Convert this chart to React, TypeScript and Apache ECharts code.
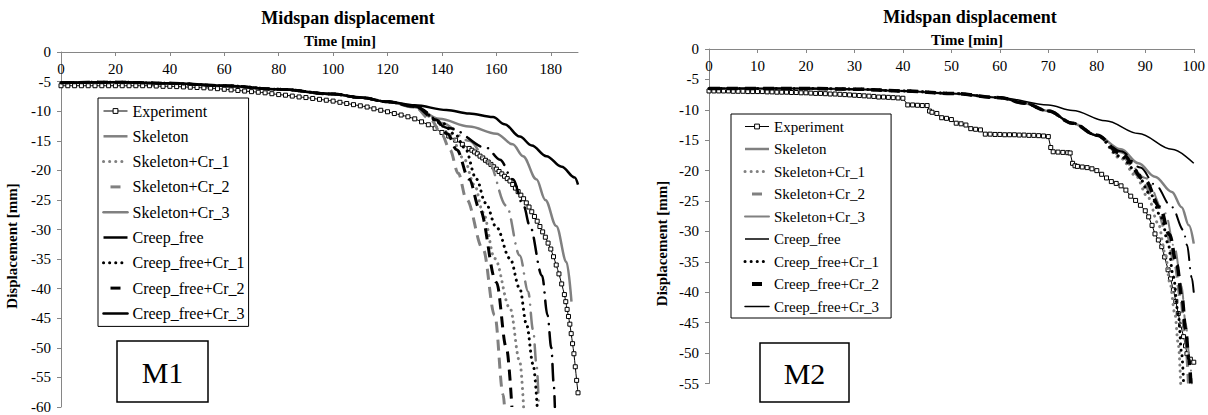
import React, { useEffect, useRef } from "react";
import * as echarts from "echarts";

type Pt = [number, number];

const FONT = "Liberation Serif";
const BLACK = "#000000";
const GRAY = "#808080";
const AXIS = "#868686";

const seriesNames = [
  "Experiment",
  "Skeleton",
  "Skeleton+Cr_1",
  "Skeleton+Cr_2",
  "Skeleton+Cr_3",
  "Creep_free",
  "Creep_free+Cr_1",
  "Creep_free+Cr_2",
  "Creep_free+Cr_3",
];
const chartTitle = "Midspan displacement";
const xTitle = "Time [min]";
const yTitle = "Displacement [mm]";
const panelLabels = ["M1", "M2"];

// ---------------- M1 (left) ----------------
const m1Experiment: Pt[] = [
  [0, -5.7], [2.5, -5.7], [5, -5.7], [7.5, -5.7], [10, -5.7], [12.5, -5.7], [15, -5.7], [17.5, -5.7],
  [20, -5.7], [22.5, -5.7], [25, -5.7], [27.5, -5.7], [30, -5.7], [32.5, -5.7], [35, -5.75], [37.5, -5.8],
  [40, -5.8], [42.5, -5.85], [45, -5.9], [47.5, -5.95], [50, -6.0], [52.5, -6.05], [55, -6.1], [57.5, -6.2],
  [60, -6.3], [62.5, -6.4], [65, -6.5], [67.5, -6.6], [70, -6.7], [72.5, -6.8], [75, -6.9], [77.5, -7.05],
  [80, -7.2], [82.5, -7.3], [85, -7.45], [87.5, -7.6], [90, -7.7], [92.5, -7.85], [95, -8.0], [97.5, -8.15],
  [100, -8.3], [102.5, -8.5], [105, -8.7], [107.5, -8.9], [110, -9.1], [112.5, -9.3], [115, -9.6], [117.5, -9.85],
  [120, -10.1], [122.5, -10.4], [125, -10.65], [127.5, -10.95], [130, -11.3], [132.5, -11.8], [135, -12.3],
  [137.5, -12.9], [140, -13.6], [142.5, -14.2], [145, -14.9], [147.5, -15.6], [150, -16.3],
  [151, -16.6], [152, -16.9], [153, -17.2], [154, -17.6], [155, -17.9], [156, -18.3], [157, -18.6], [158, -19.0],
  [159, -19.4], [160, -19.8], [161, -20.2], [162, -20.6], [163, -21.0], [164, -21.4], [165, -21.8], [166, -22.4],
  [167, -23.0], [168, -23.6], [169, -24.2], [170, -24.8], [171, -25.5], [172, -26.2], [173, -27.0], [174, -27.8],
  [175, -28.6], [176, -29.5], [177, -30.4], [178, -31.3], [179, -32.3], [180, -33.3], [181, -34.6], [182, -36.0],
  [183, -37.5], [184, -39.2], [185, -41.0], [185.5, -42.2], [186, -43.5], [186.5, -44.7], [187, -46.0],
  [187.5, -47.6], [188, -49.3], [188.5, -51.0], [189, -53.2], [189.5, -55.5], [190, -57.6],
];
const m1Head: Pt[] = [[0, -5.2], [20, -5.1], [40, -5.3], [60, -5.7], [80, -6.3], [100, -7.1], [110, -7.7], [120, -8.4]];
const m1Skeleton: Pt[] = [...m1Head, [130, -9.3], [139, -11.3], [150, -12.6], [160, -13.8], [166, -15.6], [169.8, -17.6], [174.7, -21.5], [178, -25], [182, -29.4], [185.8, -35.5], [187.6, -42.2]];
const m1SkeletonCr1: Pt[] = [...m1Head, [130, -9.3], [138, -11.5], [143, -14], [148, -18], [152, -22.5], [155.1, -27.1], [159.4, -34.9], [165, -43.3], [168.6, -52.3], [170, -60]];
const m1SkeletonCr2: Pt[] = [...m1Head, [130, -9.3], [136, -11.5], [140, -14], [142.9, -16.5], [146, -20.5], [149, -24.9], [155.1, -33.3], [159.4, -44.5], [162.5, -57.9], [163, -60]];
const m1SkeletonCr3: Pt[] = [...m1Head, [130, -9.3], [140, -12], [150, -15], [157, -18.5], [163.7, -26], [168.6, -34.4], [171.7, -40.5], [173.5, -47], [174.8, -53], [175.6, -60]];
const m1CreepFree: Pt[] = [...m1Head, [130, -9.0], [141.7, -9.8], [150, -10.4], [158.8, -11.0], [163, -12.2], [168.6, -14.3], [173, -15.8], [178.4, -17.6], [184, -19.4], [188.8, -21.2], [190, -22.4]];
const m1CreepFreeCr1: Pt[] = [...m1Head, [130, -9.2], [140, -12], [145, -14], [148.4, -16.2], [152.7, -21.5], [156, -25.5], [160, -29.6], [165, -34.9], [168.6, -40], [171.1, -46.1], [173.5, -52.8], [175, -60]];
const m1CreepFreeCr2: Pt[] = [...m1Head, [130, -9.2], [138, -11.5], [142, -13.8], [145.4, -16.5], [150, -21.5], [153.9, -26.6], [160, -38.9], [163.7, -50], [165.7, -60]];
const m1CreepFreeCr3: Pt[] = [...m1Head, [130, -9.2], [142.9, -12.9], [156.4, -16.2], [161.3, -18.2], [166, -21.5], [170, -26], [172.3, -29.4], [176.8, -37.8], [178.8, -44.5], [180.2, -50], [181.1, -56.2], [181.5, -60]];

// ---------------- M2 (right) ----------------
const m2Experiment: Pt[] = [
  [0, -6.9], [1, -6.9], [2, -6.9], [3, -6.9], [4, -6.9], [5, -6.95], [6, -6.95], [7, -6.95], [8, -7.0], [9, -7.0],
  [10, -7.0], [11, -7.0], [12, -7.05], [13, -7.05], [14, -7.1], [15, -7.1], [16, -7.1], [17, -7.15], [18, -7.15],
  [19, -7.2], [20, -7.2], [21, -7.25], [22, -7.3], [23, -7.3], [24, -7.35], [25, -7.4], [26, -7.4], [27, -7.45],
  [28, -7.5], [29, -7.55], [30, -7.6], [31, -7.65], [32, -7.7], [33, -7.75], [34, -7.8], [35, -7.9], [36, -7.9],
  [37, -7.95], [38, -8.0], [39, -8.05], [40, -8.1], [41, -9.2], [42, -9.2], [43, -9.25], [44, -9.3], [45, -9.3],
  [45.5, -10.2], [46, -10.4], [47, -10.6], [48, -11.3], [49, -11.4], [50, -11.6], [51, -12.2], [52, -12.3],
  [53, -12.5], [54, -13.1], [55, -13.2], [56, -13.3], [57, -14.0], [58, -14.0], [59, -14.05], [60, -14.05],
  [61, -14.1], [62, -14.1], [63, -14.1], [64, -14.15], [65, -14.15], [66, -14.2], [67, -14.2], [68, -14.25],
  [69, -14.3], [70, -14.4], [70.5, -16.2], [71, -16.9], [72, -16.95], [73, -17.0], [74, -17.05], [74.5, -17.1],
  [75, -18.8], [75.5, -19.2], [76, -19.3], [77, -19.4], [78, -19.5], [79, -19.7], [80, -20.0], [81, -20.6],
  [82, -21.2], [83, -21.8], [84, -22.1], [85, -22.5], [86, -23.2], [87, -24.2], [88, -24.9], [89, -25.7],
  [90, -26.6], [90.7, -27.6], [91.4, -29.0], [92, -30.4], [92.7, -31.4], [93.4, -32.5], [94, -34.2], [94.7, -36.3],
  [95.2, -37.8], [95.8, -39.6], [96.3, -41.5], [96.8, -43.5], [97.3, -45.4], [97.9, -47.3], [98.3, -48.8],
  [98.6, -50.1], [99.3, -51], [100, -51.5],
];
const m2Head: Pt[] = [[0, -6.5], [10, -6.5], [20, -6.5], [30, -6.6], [40, -6.9], [50, -7.3], [60, -8.0]];
const m2Group: Pt[] = [[65, -8.9], [70, -10.2], [75, -12.2], [80, -14.2]];
const m2CreepFree: Pt[] = [...m2Head, [70, -9.2], [75, -10.1], [81.8, -11.8], [88.6, -13.9], [95.5, -16.5], [100, -18.8]];
const m2Skeleton: Pt[] = [...m2Head, ...m2Group, [85, -16.5], [88.6, -18.8], [92, -21], [95.5, -23.5], [97.5, -26], [99, -29], [100, -32]];
const m2CreepFreeCr3: Pt[] = [...m2Head, ...m2Group, [85, -16.8], [89, -19.5], [92, -22.3], [95.5, -26], [97.9, -29.8], [98.6, -32.2], [99.6, -37.6], [100, -40]];
const m2SkeletonCr3: Pt[] = [...m2Head, ...m2Group, [85, -17], [90, -21.2], [94.1, -27], [96.1, -32.8], [97.5, -39], [98.3, -45], [99.2, -51.2], [99.6, -55]];
const m2CreepFreeCr2: Pt[] = [...m2Head, ...m2Group, [85, -17.2], [90, -21.6], [93, -26], [95, -30.5], [96.5, -35.5], [97.6, -41], [98.3, -46], [99, -51], [99.4, -55]];
const m2SkeletonCr2: Pt[] = [...m2Head, ...m2Group, [85, -17.5], [89, -21], [92, -25], [94.3, -30], [96, -35], [97.3, -41], [98.2, -47], [98.9, -55]];
const m2CreepFreeCr1: Pt[] = [...m2Head, ...m2Group, [85, -17.7], [88, -20], [91, -23.8], [93.4, -27.8], [94.7, -32], [95.8, -37.5], [96.8, -43.5], [97.5, -50], [97.9, -55]];
const m2SkeletonCr1: Pt[] = [...m2Head, ...m2Group, [85, -18], [88, -20.8], [90.5, -24.3], [92.7, -28.7], [94.1, -33.6], [95.1, -38.5], [96.1, -43.5], [96.8, -48.4], [97.3, -55]];

// ---------------- styles ----------------
const solidLS = (color: string, width: number) => ({ color, width, type: "solid" as const, cap: "butt" as const });
const dotLS = (color: string, width: number) => ({ color, width, type: [0.1, 6], cap: "round" as const });
const dashLS = (color: string, width: number) => ({ color, width, type: [11, 7], cap: "butt" as const });
const dashDotLS = (color: string, width: number) => ({ color, width, type: [16, 8, 0.1, 8], cap: "round" as const });

function modelSeries(name: string, data: Pt[], idx: number, lineStyle: any) {
  return {
    type: "line",
    name,
    data,
    xAxisIndex: idx,
    yAxisIndex: idx,
    symbol: "none",
    smooth: 0.35,
    smoothMonotone: "x",
    lineStyle,
    itemStyle: { color: lineStyle.color },
    silent: true,
    z: 3,
  };
}

function experimentSeries(data: Pt[], idx: number, smooth: boolean) {
  return {
    type: "line",
    name: seriesNames[0],
    data,
    xAxisIndex: idx,
    yAxisIndex: idx,
    symbol: "rect",
    symbolSize: 4,
    showAllSymbol: true,
    smooth: smooth ? 0.3 : false,
    lineStyle: { color: BLACK, width: 1 },
    itemStyle: { color: "#ffffff", borderColor: BLACK, borderWidth: 1 },
    silent: true,
    z: 2,
  };
}

function legendData(m2: boolean) {
  return [
    { name: seriesNames[0], itemStyle: { color: "#ffffff", borderColor: BLACK, borderWidth: 1 } },
    { name: seriesNames[1] },
    { name: seriesNames[2] },
    { name: seriesNames[3], lineStyle: { type: [10, 14], dashOffset: -7 } },
    { name: seriesNames[4], lineStyle: { type: "solid", width: m2 ? 2 : 2.5 } },
    { name: seriesNames[5], lineStyle: m2 ? { width: 1.5 } : {} },
    { name: seriesNames[6] },
    { name: seriesNames[7], lineStyle: { type: [10, 14], dashOffset: -7, width: m2 ? 4 : 3 } },
    { name: seriesNames[8], lineStyle: { type: "solid", width: m2 ? 1.5 : 2.5 } },
  ];
}

function legendOpt(left: number, top: number, gap: number, fontSize: number, padding: number[], m2: boolean) {
  return {
    orient: "vertical",
    left,
    top,
    selectedMode: false,
    itemWidth: 24,
    itemHeight: 6,
    itemGap: gap,
    padding,
    backgroundColor: "#ffffff",
    borderColor: BLACK,
    borderWidth: 1,
    borderRadius: 0,
    textStyle: { fontFamily: FONT, fontSize, color: BLACK, lineHeight: fontSize },
    itemStyle: { color: "transparent", borderColor: "transparent", borderWidth: 0 },
    lineStyle: { width: "inherit" },
    data: legendData(m2),
  };
}

function xAxisOpt(idx: number, max: number, interval: number) {
  return {
    type: "value",
    gridIndex: idx,
    position: "top",
    min: 0,
    max,
    interval,
    axisLine: { show: true, onZero: false, lineStyle: { color: AXIS, width: 1 } },
    axisTick: { show: true, inside: true, length: 4, lineStyle: { color: AXIS } },
    axisLabel: {
      inside: true,
      margin: 9,
      showMaxLabel: max % interval === 0,
      color: BLACK,
      fontFamily: FONT,
      fontSize: 15,
    },
    splitLine: { show: false },
  };
}

function yAxisOpt(idx: number, min: number) {
  return {
    type: "value",
    gridIndex: idx,
    min,
    max: 0,
    interval: 5,
    axisLine: { show: true, onZero: false, lineStyle: { color: AXIS, width: 1 } },
    axisTick: { show: true, inside: false, length: 4, lineStyle: { color: AXIS } },
    axisLabel: { margin: 10, color: BLACK, fontFamily: FONT, fontSize: 15 },
    splitLine: { show: false },
  };
}

function txt(text: string, x: number, y: number, size: number, bold: boolean, rotation = 0) {
  return {
    type: "text",
    x,
    y,
    rotation,
    silent: true,
    z: 10,
    style: {
      text,
      fill: BLACK,
      fontFamily: FONT,
      fontSize: size,
      fontWeight: bold ? "bold" : "normal",
      align: "center",
      verticalAlign: "middle",
    },
  };
}

function box(x: number, y: number, w: number, h: number) {
  return {
    type: "rect",
    shape: { x, y, width: w, height: h },
    style: { fill: "#ffffff", stroke: BLACK, lineWidth: 1.5 },
    silent: true,
    z: 9,
  };
}

export default function App() {
  const ref = useRef<HTMLDivElement>(null);

  useEffect(() => {
    if (!ref.current) return;
    const chart = echarts.init(ref.current, undefined, { renderer: "svg" });
    const option: any = {
      animation: false,
      backgroundColor: "#ffffff",
      textStyle: { fontFamily: FONT },
      grid: [
        { left: 61, top: 52, width: 517, height: 355, containLabel: false },
        { left: 709, top: 49, width: 486, height: 334.5, containLabel: false },
      ],
      xAxis: [xAxisOpt(0, 190, 20), xAxisOpt(1, 100, 10)],
      yAxis: [yAxisOpt(0, -60), yAxisOpt(1, -55)],
      legend: [
        legendOpt(98, 98, 9.3, 16, [5, 4, 5, 4], false),
        legendOpt(731, 114, 7.5, 15, [5, 12, 4, 12], true),
      ],
      graphic: [
        txt(chartTitle, 348, 18, 18, true),
        txt(xTitle, 340, 41, 15, true),
        txt(yTitle, 12, 246, 15, true, Math.PI / 2),
        txt(chartTitle, 970, 17, 18, true),
        txt(xTitle, 967, 39.5, 15, true),
        txt(yTitle, 662, 243.5, 15, true, Math.PI / 2),
        box(117, 341, 91, 61),
        txt(panelLabels[0], 162.5, 372, 30, false),
        box(760, 343, 89, 59),
        txt(panelLabels[1], 804.5, 373, 30, false),
      ],
      series: [
        experimentSeries(m1Experiment, 0, true),
        modelSeries(seriesNames[1], m1Skeleton, 0, solidLS(GRAY, 2.5)),
        modelSeries(seriesNames[2], m1SkeletonCr1, 0, dotLS(GRAY, 3)),
        modelSeries(seriesNames[3], m1SkeletonCr2, 0, dashLS(GRAY, 3)),
        modelSeries(seriesNames[4], m1SkeletonCr3, 0, dashDotLS(GRAY, 2.5)),
        modelSeries(seriesNames[5], m1CreepFree, 0, solidLS(BLACK, 2.5)),
        modelSeries(seriesNames[6], m1CreepFreeCr1, 0, dotLS(BLACK, 3)),
        modelSeries(seriesNames[7], m1CreepFreeCr2, 0, dashLS(BLACK, 3)),
        modelSeries(seriesNames[8], m1CreepFreeCr3, 0, dashDotLS(BLACK, 2.5)),

        experimentSeries(m2Experiment, 1, false),
        modelSeries(seriesNames[1], m2Skeleton, 1, solidLS(GRAY, 2.5)),
        modelSeries(seriesNames[2], m2SkeletonCr1, 1, dotLS(GRAY, 3)),
        modelSeries(seriesNames[3], m2SkeletonCr2, 1, dashLS(GRAY, 3)),
        modelSeries(seriesNames[4], m2SkeletonCr3, 1, dashDotLS(GRAY, 2)),
        modelSeries(seriesNames[5], m2CreepFree, 1, solidLS(BLACK, 1.5)),
        modelSeries(seriesNames[6], m2CreepFreeCr1, 1, dotLS(BLACK, 3)),
        modelSeries(seriesNames[7], m2CreepFreeCr2, 1, dashLS(BLACK, 3.5)),
        modelSeries(seriesNames[8], m2CreepFreeCr3, 1, dashDotLS(BLACK, 2)),
      ],
    };
    chart.setOption(option);
    return () => {
      chart.dispose();
    };
  }, []);

  return (
    <div
      ref={ref}
      style={{ position: "fixed", left: 0, top: 0, width: 1208, height: 415, background: "#ffffff" }}
    />
  );
}
